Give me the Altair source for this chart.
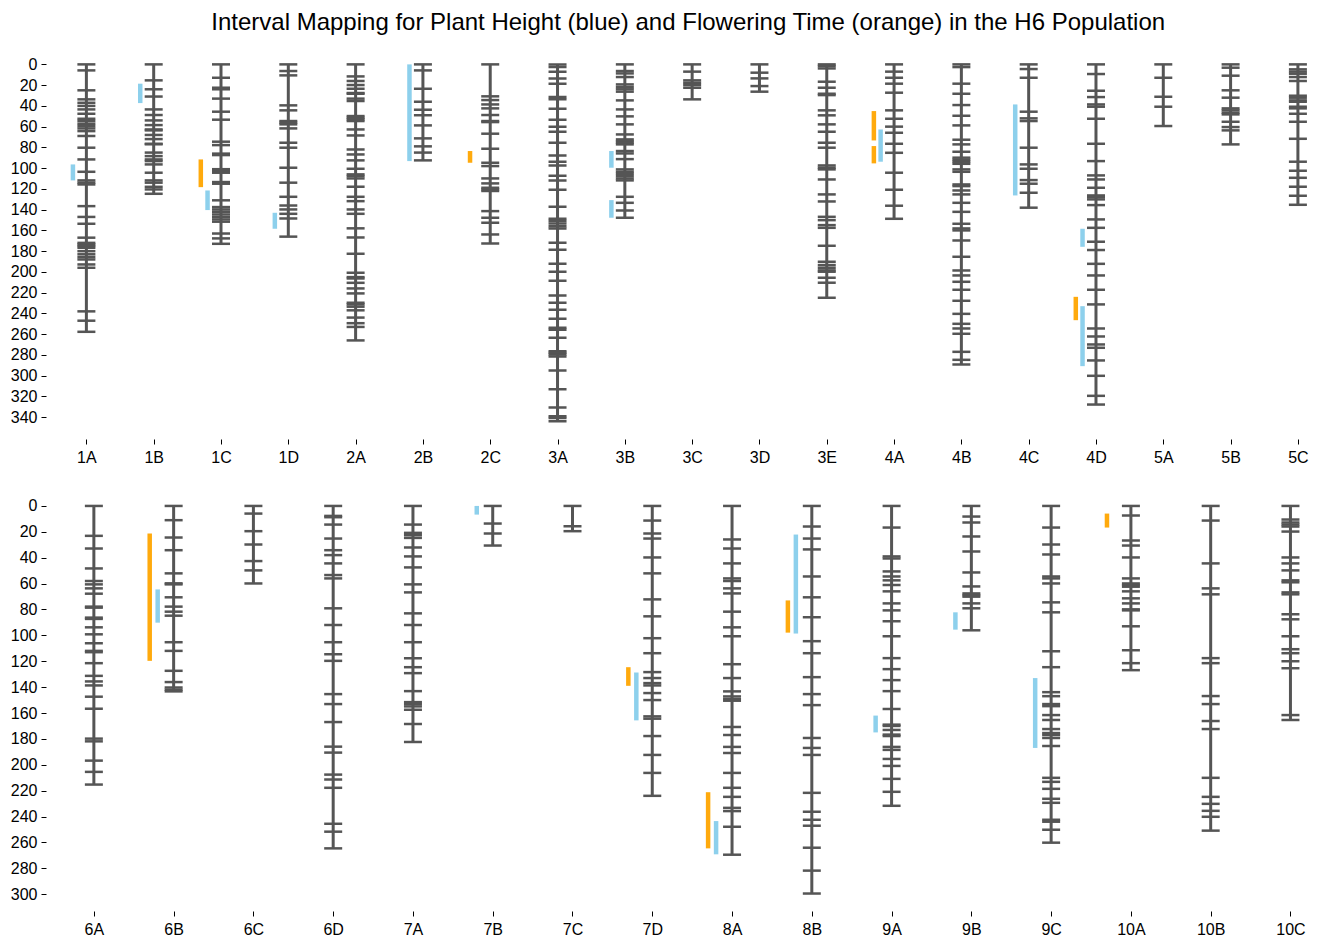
import altair as alt
import pandas as pd

TITLE = "Interval Mapping for Plant Height (blue) and Flowering Time (orange) in the H6 Population"

top_names = ["1A", "1B", "1C", "1D", "2A", "2B", "2C", "3A", "3B", "3C",
             "3D", "3E", "4A", "4B", "4C", "4D", "5A", "5B", "5C"]
bottom_names = ["6A", "6B", "6C", "6D", "7A", "7B", "7C", "7D", "8A", "8B",
                "9A", "9B", "9C", "10A", "10B", "10C"]

# marker positions (cM) per chromosome
m_1A = [0, 5.8, 25, 33.7, 37, 40, 43.4, 47.6, 52.4, 54.6, 57.2, 59.4, 61.7, 64.3, 69, 80.3, 91.6, 103.5, 111.8, 114, 115.7, 136.6, 147, 153.6, 167, 172, 173.5, 175, 176.7, 180, 183, 185.7, 188, 192.8, 196, 238, 247, 257.7]
m_1B = [0, 15.4, 24, 31, 43.4, 48.8, 54, 58.5, 62.7, 63.6, 68, 72, 76.5, 77, 85, 88.4, 91.6, 93.2, 96.4, 104.4, 111.8, 114, 118, 120.5, 124.7]
m_1C = [0, 12.9, 22.5, 24, 33, 45.6, 53.3, 74.5, 77.8, 86, 87.4, 101, 102.8, 104.4, 113.4, 115, 131, 137.5, 139.8, 142, 144.6, 147, 149.4, 151.6, 163, 167.7, 172.9]
m_1D = [0, 6.4, 10.6, 39.5, 44.3, 54.6, 56.2, 57.8, 61.7, 75.5, 80.3, 99.6, 114, 127.6, 136, 139.8, 144, 148.5, 166]
m_2A = [0, 11.6, 16, 19.9, 23.5, 27.6, 28.3, 33, 35.3, 49.8, 51.4, 53, 54.6, 62.7, 68.5, 82, 86.8, 92.5, 100.6, 106, 107.6, 109.9, 117.9, 127.6, 131.8, 139.8, 144, 158, 166.8, 182.5, 200.8, 205, 206.3, 210.5, 215.9, 220.7, 229.7, 231.3, 233.5, 237, 244, 249.4, 253, 266]
m_2B = [0, 5.8, 23.5, 36, 43.7, 49, 58.8, 71.3, 79, 85, 92.5]
m_2C = [0, 30.8, 34.4, 38.6, 42.4, 48.8, 54.6, 55.6, 66.8, 81.3, 94.8, 98, 109.9, 114.7, 118.9, 120.5, 122, 141.4, 147.8, 152.6, 163.9, 172.6]
m_3A = [0, 2.6, 7, 13.5, 18.6, 31.5, 33.7, 42.7, 53.3, 60, 64.9, 75.5, 87.7, 93.8, 97.4, 107.3, 111.8, 120.8, 137.2, 148.8, 151, 153.3, 155.9, 158.1, 171.9, 178.7, 192.2, 199.9, 208.5, 222.7, 229.7, 236.5, 245.2, 253.9, 255.8, 263.5, 276.4, 278, 279.6, 281.6, 295, 313, 330.7, 339, 340.7, 344]
m_3B = [0, 6.4, 8.7, 12.2, 19.3, 21.8, 24, 26.3, 34.7, 43.4, 50.1, 57.8, 67.5, 72.3, 73.9, 75.5, 77.1, 83.5, 85.8, 91.3, 101.2, 103.5, 105.4, 107.6, 109.9, 111.8, 127.6, 133.4, 140.8, 147.8]
m_3C = [0, 7, 15.4, 17.7, 19.9, 22.5, 33.7]
m_3D = [0, 8, 13.5, 20.9, 26.3]
m_3E = [0, 1.6, 3.9, 16.7, 22.5, 28.3, 29.6, 44.3, 49.1, 57.8, 64.9, 75.5, 80.3, 97.4, 99.6, 101.2, 110.9, 125.3, 132.1, 146.9, 150.1, 154.9, 157.5, 174.8, 190.2, 193.4, 196, 198.5, 199.8, 205.6, 210.4, 224.9]
m_4A = [0, 7, 12.9, 18.6, 27.3, 44.3, 52.4, 60, 65.9, 76.5, 85.2, 104.4, 120.8, 136.2, 148.8]
m_4B = [0, 2.6, 18.6, 28.3, 39.2, 49.5, 58.8, 72.6, 77.1, 84.2, 89.9, 91.9, 93.8, 95.8, 101.2, 103.5, 115.7, 117.3, 121.5, 125.3, 133.4, 142.1, 153.6, 158.1, 160, 169.7, 185.4, 198.6, 203.4, 209.5, 217.2, 227.8, 240.4, 250, 254.5, 259.6, 277, 284.7, 289.2]
m_4C = [0, 4.5, 12.9, 45.6, 52, 54.6, 80.3, 96.4, 100.6, 111.5, 115, 123.7, 138.1]
m_4D = [0, 9.3, 25.4, 31.5, 38.6, 40.8, 52.4, 76.5, 93.2, 107, 110.9, 118.9, 126.3, 127.9, 130.1, 135.6, 149.4, 157.5, 170.9, 178.9, 192.2, 203.4, 217.2, 231.3, 254.5, 262.2, 269.9, 273.1, 285.3, 300.1, 319.4, 327.8]
m_5A = [0, 12.9, 31.2, 40.8, 59.4]
m_5B = [0, 3.2, 10.9, 25, 32.1, 42.4, 44.3, 46.6, 48.2, 55.3, 60.4, 63.6, 77.1]
m_5C = [0, 4.8, 7, 9, 12.2, 16, 30.2, 32.1, 34.7, 36, 40.8, 42.4, 47.6, 55.3, 71.7, 93.8, 102.5, 109.3, 117.9, 126.6, 135.3]

m_6A = [0, 23.1, 32.9, 48.3, 58, 60.6, 63.7, 67.8, 77.8, 78.6, 86.3, 87.3, 93.8, 99.2, 106.1, 112, 113, 121.5, 131.3, 135.6, 138.7, 147.4, 156.7, 179.8, 181.9, 196.8, 205.5, 215.3]
m_6B = [0, 11, 24.4, 34.2, 52.1, 59.8, 60.6, 70.6, 77.8, 81.7, 84.8, 105.3, 112, 127.4, 136.1, 140.3, 142, 143.3]
m_6C = [0, 5.9, 19.5, 29.8, 42.6, 49.8, 59.9]
m_6D = [0, 7.7, 8.7, 14.4, 25.2, 34.2, 38, 44.4, 53.4, 56, 79.1, 92, 105.3, 114.6, 119.7, 145.4, 153.1, 167, 186, 190.6, 207.6, 211.4, 217.8, 245.6, 251.7, 264.6]
m_7A = [0, 14.4, 20.8, 22.6, 24.7, 32.1, 39, 47.5, 60.6, 66.8, 83, 92, 105.3, 117.7, 124.6, 129.2, 143.1, 151.6, 153.1, 154.9, 157.5, 168.5, 182.4]
m_7B = [0, 13.6, 21.3, 30.6]
m_7C = [0, 15.7, 19.5]
m_7D = [0, 11.3, 21.3, 25.2, 39.8, 52.1, 72.2, 85.3, 102.2, 113.8, 128.4, 133, 136.9, 138.7, 144.6, 150, 162.6, 164.4, 177.8, 192.4, 206.3, 224]
m_8A = [0, 25.9, 32.9, 44.4, 56, 58, 63.7, 67.6, 81.7, 93.8, 100.7, 122.3, 133, 143.3, 147.2, 149.2, 150.5, 170.8, 177, 186.2, 190.9, 206.3, 217.8, 224.8, 233.3, 235.8, 247.9, 269.5]
m_8B = [0, 15.9, 25.2, 33.6, 54.5, 70.6, 86, 104.5, 113.8, 132.3, 145.4, 153.9, 179.3, 187, 192.4, 221.7, 236.3, 242.5, 247.1, 264.1, 281.8, 299.5]
m_9A = [0, 16.7, 39, 40.6, 50.6, 54.5, 57.5, 61.1, 66, 75.3, 80.7, 89.1, 100.7, 117.6, 126.1, 134.6, 143.1, 156.9, 169, 170, 173.1, 176.7, 177.8, 186.2, 188.5, 195.5, 200.9, 210.9, 220.9, 231.7]
m_9B = [0, 8.2, 12.8, 23.6, 35.2, 51.4, 62.2, 67.6, 68.9, 70.1, 75.3, 79.1, 96.1]
m_9C = [0, 16.7, 29.8, 37.5, 54.5, 56, 59.9, 74.5, 82.2, 112.3, 124.6, 143.9, 147, 153.1, 154.7, 161.6, 165.4, 172.4, 175.5, 177, 179.3, 185.5, 210.1, 213.2, 218.6, 226.3, 229.4, 242.5, 244, 250.2, 260.2]
m_10A = [0, 7.4, 26.7, 30.6, 39.8, 56, 59.9, 61.1, 62.4, 66, 71.4, 75.3, 79.9, 80.7, 93, 111.5, 121.5, 126.9]
m_10B = [0, 11.3, 44.4, 63.7, 68.3, 117.6, 121.5, 146.9, 153.1, 166.2, 172.4, 210.1, 224.8, 230.2, 235.6, 240.2, 250.9]
m_10C = [0, 10.5, 12.8, 14.4, 15.9, 19.8, 39.8, 44.4, 49.8, 57.5, 59, 66.8, 68.3, 83.7, 87.6, 100.7, 110.7, 113.8, 120, 125.4, 161.6, 165.4]

MARKERS = {
    "1A": m_1A, "1B": m_1B, "1C": m_1C, "1D": m_1D, "2A": m_2A, "2B": m_2B, "2C": m_2C,
    "3A": m_3A, "3B": m_3B, "3C": m_3C, "3D": m_3D, "3E": m_3E, "4A": m_4A, "4B": m_4B,
    "4C": m_4C, "4D": m_4D, "5A": m_5A, "5B": m_5B, "5C": m_5C,
    "6A": m_6A, "6B": m_6B, "6C": m_6C, "6D": m_6D, "7A": m_7A, "7B": m_7B, "7C": m_7C,
    "7D": m_7D, "8A": m_8A, "8B": m_8B, "9A": m_9A, "9B": m_9B, "9C": m_9C,
    "10A": m_10A, "10B": m_10B, "10C": m_10C,
}

# QTL intervals: PH = plant height (blue), FT = flowering time (orange)
qtl_chrom = ["1A", "1B", "1C", "1C", "1D", "2B", "2C", "3B", "3B", "4A", "4A", "4A",
             "4C", "4D", "4D", "4D",
             "6B", "6B", "7B", "7D", "7D", "8A", "8A", "8B", "8B", "9A", "9B", "9C", "10A"]
qtl_trait = ["PH", "PH", "FT", "PH", "PH", "PH", "FT", "PH", "PH", "FT", "FT", "PH",
             "PH", "PH", "FT", "PH",
             "FT", "PH", "PH", "FT", "PH", "FT", "PH", "PH", "FT", "PH", "PH", "PH", "FT"]
qtl_start = [96.4, 18.6, 91.6, 121.5, 143, 0, 83.5, 83.5, 130.8, 45, 78.7, 62.7,
             38.6, 158.4, 224, 233,
             21.3, 64.5, 0, 124.6, 128.7, 221.2, 243.5, 22.1, 73, 162, 82.2, 133, 5.9]
qtl_end = [111.8, 37.3, 118.3, 140.4, 158.4, 93.2, 94.8, 99.6, 147.8, 73.3, 95.4, 93.8,
           126.3, 175.8, 246.5, 290.8,
           119.7, 90.2, 6.7, 139, 165.7, 264.6, 269.2, 98.6, 97.9, 175, 95.6, 187, 16.7]

top_yticks = list(range(0, 341, 20))
bottom_yticks = list(range(0, 301, 20))

FONT = "Liberation Sans"
CHROM_COLOR = "#555555"


def panel(names, ydomain, yticks, height, xdomain, width):
    mk = pd.DataFrame([{"chrom": c, "idx": i, "pos": p}
                       for i, c in enumerate(names) for p in MARKERS[c]])
    ch = pd.DataFrame([{"chrom": c, "idx": i, "start": 0, "end": max(MARKERS[c])}
                       for i, c in enumerate(names)])
    q = pd.DataFrame({"chrom": qtl_chrom, "trait": qtl_trait,
                      "start": qtl_start, "end": qtl_end})
    q = q[q["chrom"].isin(names)].copy()
    q["idx"] = q["chrom"].map({c: i for i, c in enumerate(names)})

    label_expr = "[" + ",".join("'%s'" % n for n in names) + "][datum.value]"
    xscale = alt.Scale(domain=xdomain, nice=False, zero=False)
    yscale = alt.Scale(domain=ydomain, reverse=True, nice=False, zero=False)
    xaxis = alt.Axis(values=list(range(len(names))), labelExpr=label_expr, title=None,
                     labelPadding=5, tickSize=5, labelAngle=0)
    yaxis = alt.Axis(values=yticks, title=None, tickSize=5, labelPadding=4)

    backbone = alt.Chart(ch).mark_rule(color=CHROM_COLOR, strokeWidth=3).encode(
        x=alt.X("idx:Q", scale=xscale, axis=xaxis),
        y=alt.Y("start:Q", scale=yscale, axis=yaxis),
        y2="end:Q",
    )
    ticks = alt.Chart(mk).mark_tick(color=CHROM_COLOR, orient="horizontal", size=18,
                                    thickness=2.5, opacity=1).encode(
        x=alt.X("idx:Q", scale=xscale, axis=xaxis),
        y=alt.Y("pos:Q", scale=yscale, axis=yaxis),
    )
    qtl = alt.Chart(q).transform_calculate(
        qx="datum.idx + (datum.trait == 'PH' ? -0.2 : -0.3)"
    ).mark_rule(strokeWidth=4.5, opacity=0.95).encode(
        x=alt.X("qx:Q", scale=xscale, axis=xaxis),
        y=alt.Y("start:Q", scale=yscale, axis=yaxis),
        y2="end:Q",
        color=alt.Color("trait:N", scale=alt.Scale(domain=["PH", "FT"],
                                                   range=["#87CEEB", "#FFA500"]),
                        legend=None),
    )
    return alt.layer(backbone, ticks, qtl).properties(width=width, height=height)


W = 1262
top = panel(top_names, [-10, 361], top_yticks, 385, [-0.6, 18.15], W)
bottom = panel(bottom_names, [-10, 313], bottom_yticks, 418, [-0.6, 15.22], W)

chart = alt.vconcat(top, bottom, spacing=28).properties(
    title=alt.TitleParams(TITLE, fontSize=24, font=FONT, fontWeight="normal",
                          anchor="middle", offset=19, dx=29, color="#000000"),
    padding={"left": 2, "top": 3, "right": 0, "bottom": 0},
).configure_axis(
    domain=False, grid=False, labelFont=FONT, labelFontSize=16,
    labelColor="#000000", tickColor="#000000",
).configure_view(stroke=None)

chart.save("out.html", embed_options={"renderer": "svg", "actions": False})
